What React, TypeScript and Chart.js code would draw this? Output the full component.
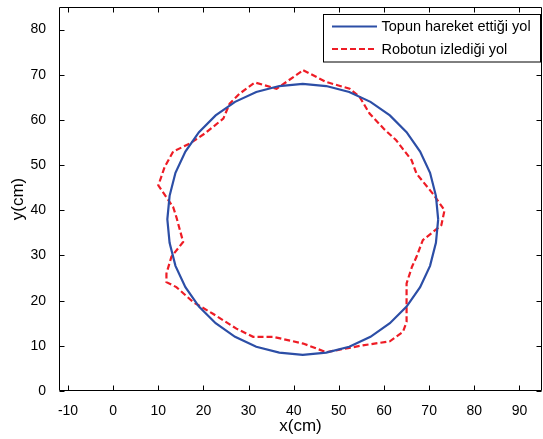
import React, { useEffect, useRef } from 'react';
import { Chart, registerables } from 'chart.js';

Chart.register(...registerables);

const xTicks = [-10, 0, 10, 20, 30, 40, 50, 60, 70, 80, 90];
const yTicks = [0, 10, 20, 30, 40, 50, 60, 70, 80];
const xLabel = 'x(cm)';
const yLabel = 'y(cm)';
const seriesLabels = ['Topun hareket ettiği yol', 'Robotun izlediği yol'];

const ballX = [72, 71.5, 70.2, 68, 65, 61.3, 57, 52.3, 47.2, 42, 36.8, 31.7, 27, 22.7, 19, 16, 13.8, 12.5, 12, 12.5, 13.8, 16, 19, 22.7, 27, 31.7, 36.8, 42, 47.2, 52.3, 57, 61.3, 65, 68, 70.2, 71.5, 72];
const ballY = [38, 43.2, 48.3, 53, 57.3, 61, 64, 66.2, 67.5, 68, 67.5, 66.2, 64, 61, 57.3, 53, 48.3, 43.2, 38, 32.8, 27.7, 23, 18.7, 15, 12, 9.8, 8.5, 8, 8.5, 9.8, 12, 15, 18.7, 23, 27.7, 32.8, 38];

const robotX = [42.1, 47.2, 52.4, 54.6, 56.8, 60.0, 62.7, 66.1, 67.2, 70.8, 73.4, 72.7, 68.6, 67.2, 66.2, 65.0, 65.0, 64.2, 61.3, 55.3, 47.2, 42.1, 35.4, 31.0, 27.3, 22.1, 17.7, 14.0, 11.8, 11.8, 12.9, 15.5, 14.0, 13.3, 10.0, 11.4, 13.3, 17.0, 20.3, 24.4, 25.8, 28.0, 31.4, 36.2, 42.1];
const robotY = [71.0, 68.4, 66.9, 65.1, 61.4, 58.0, 55.5, 51.1, 48.1, 43.7, 40.0, 36.7, 33.4, 29.7, 27.5, 23.8, 15.3, 13.1, 11.0, 10.1, 8.6, 10.5, 12.0, 12.0, 13.8, 17.1, 19.7, 23.0, 24.1, 26.0, 29.7, 33.0, 38.5, 40.7, 45.5, 49.6, 53.0, 54.8, 57.0, 60.3, 63.6, 65.8, 68.3, 66.9, 71.0];

const BLUE = '#2c4ea6';
const RED = '#ee1c25';
const FONT = 'Liberation Sans, Arial, Helvetica, sans-serif';

const framePlugin = {
  id: 'framePlugin',
  afterDraw(chart: any) {
    const { ctx, chartArea } = chart;
    const { left, right, top, bottom } = chartArea;
    const xs = chart.scales.x;
    const ys = chart.scales.y;
    ctx.save();
    ctx.strokeStyle = '#000';
    ctx.lineWidth = 1;
    const L = Math.round(left) + 0.5;
    const R = Math.round(right) - 0.5;
    const T = Math.round(top) + 0.5;
    const B = Math.round(bottom) - 0.5;
    ctx.beginPath();
    ctx.rect(L, T, R - L, B - T);
    ctx.stroke();
    const tl = 5;
    ctx.beginPath();
    xTicks.forEach((v) => {
      const px = Math.round(xs.getPixelForValue(v)) + 0.5;
      ctx.moveTo(px, B);
      ctx.lineTo(px, B - tl);
      ctx.moveTo(px, T);
      ctx.lineTo(px, T + tl);
    });
    yTicks.forEach((v) => {
      const py = Math.round(ys.getPixelForValue(v)) + 0.5;
      ctx.moveTo(L, py);
      ctx.lineTo(L + tl, py);
      ctx.moveTo(R, py);
      ctx.lineTo(R - tl, py);
    });
    ctx.stroke();

    // legend
    const bx = 323.5, by = 14.5, bw = 217, bh = 47.5;
    ctx.fillStyle = '#fff';
    ctx.fillRect(bx, by, bw, bh);
    ctx.strokeStyle = '#000';
    ctx.lineWidth = 1;
    ctx.strokeRect(bx, by, bw, bh);
    const rows = [
      { y: 26.5, color: BLUE, dash: [] as number[] },
      { y: 49, color: RED, dash: [6, 3] },
    ];
    rows.forEach((r, i) => {
      ctx.beginPath();
      ctx.strokeStyle = r.color;
      ctx.lineWidth = 2.2;
      ctx.setLineDash(r.dash);
      ctx.moveTo(332, r.y);
      ctx.lineTo(377, r.y);
      ctx.stroke();
      ctx.setLineDash([]);
      ctx.fillStyle = '#000';
      ctx.font = `14.5px ${FONT}`;
      ctx.textBaseline = 'middle';
      ctx.textAlign = 'left';
      ctx.fillText(seriesLabels[i], 381.5, r.y + 0.5);
    });
    ctx.restore();
  },
};

export default function App() {
  const canvasRef = useRef<HTMLCanvasElement | null>(null);

  useEffect(() => {
    const canvas = canvasRef.current;
    if (!canvas) return;
    const ballData = ballX.map((x, i) => ({ x, y: ballY[i] }));
    const robotData = robotX.map((x, i) => ({ x, y: robotY[i] }));
    const chart = new Chart(canvas, {
      type: 'scatter',
      data: {
        datasets: [
          {
            label: seriesLabels[0],
            data: ballData,
            showLine: true,
            borderColor: BLUE,
            backgroundColor: BLUE,
            borderWidth: 2.2,
            pointRadius: 0,
            tension: 0,
          },
          {
            label: seriesLabels[1],
            data: robotData,
            showLine: true,
            borderColor: RED,
            backgroundColor: RED,
            borderWidth: 2.2,
            borderDash: [6, 3],
            pointRadius: 0,
            tension: 0,
          },
        ],
      },
      options: {
        responsive: false,
        animation: false,
        layout: { padding: { left: 0, right: 1, top: 7, bottom: 0 } },
        plugins: {
          legend: { display: false },
          tooltip: { enabled: false },
        },
        scales: {
          x: {
            type: 'linear',
            min: -12,
            max: 95,
            grid: { display: false },
            border: { display: false },
            afterBuildTicks: (axis: any) => {
              axis.ticks = xTicks.map((v) => ({ value: v }));
            },
            afterFit: (axis: any) => {
              axis.height = 48;
              axis.paddingLeft = 0;
              axis.paddingRight = 0;
            },
            ticks: {
              color: '#000',
              padding: 4,
              maxRotation: 0,
              autoSkip: false,
              font: { family: FONT, size: 14 },
              callback: (v: any) => String(v),
            },
            title: {
              display: true,
              text: xLabel,
              color: '#000',
              font: { family: FONT, size: 17 },
              padding: { top: 0, bottom: 2 },
            },
          },
          y: {
            type: 'linear',
            min: 0,
            max: 85,
            grid: { display: false },
            border: { display: false },
            afterBuildTicks: (axis: any) => {
              axis.ticks = yTicks.map((v) => ({ value: v }));
            },
            afterFit: (axis: any) => {
              axis.width = 59;
              axis.paddingTop = 0;
              axis.paddingBottom = 0;
            },
            ticks: {
              color: '#000',
              padding: 5,
              autoSkip: false,
              font: { family: FONT, size: 14 },
              callback: (v: any) => String(v),
            },
            title: {
              display: true,
              text: yLabel,
              color: '#000',
              font: { family: FONT, size: 17 },
              padding: { top: 8, bottom: 0 },
            },
          },
        },
      },
      plugins: [framePlugin],
    });
    return () => chart.destroy();
  }, []);

  return (
    <div style={{ position: 'absolute', left: 0, top: 0, width: 543, height: 439, background: '#fff' }}>
      <canvas ref={canvasRef} width={543} height={439} style={{ display: 'block' }} />
    </div>
  );
}
